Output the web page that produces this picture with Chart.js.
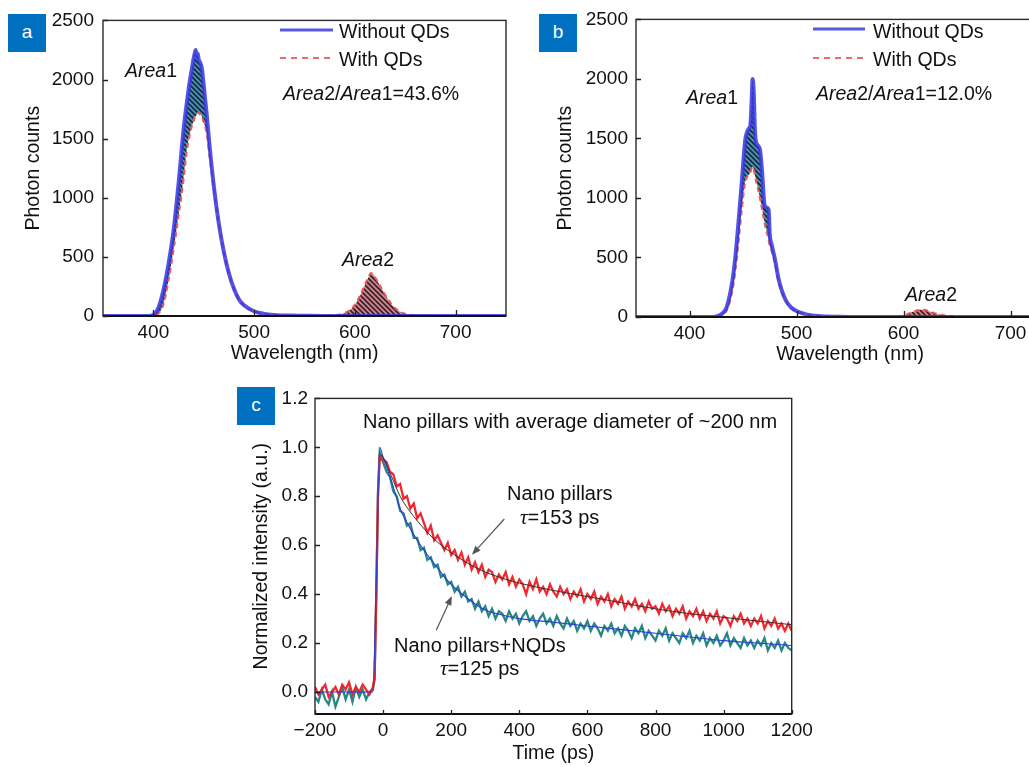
<!DOCTYPE html>
<html><head><meta charset="utf-8">
<script src="https://cdn.jsdelivr.net/npm/chart.js@4.4.1/dist/chart.umd.min.js"></script>
<style>
html,body{margin:0;padding:0;background:#fff;width:1029px;height:767px;overflow:hidden;position:relative;font-family:'Liberation Sans',Arial,sans-serif;color:#111}
canvas{position:absolute}
.t{position:absolute;white-space:nowrap;font-size:19.5px;line-height:24px;transform:translateY(-50%)}
.c20{font-size:20px}
.box{position:absolute;width:38px;height:38px;background:#0070c0;color:#fff;font-size:19px;line-height:36px;text-align:center}
.tau{font-family:'Liberation Serif','DejaVu Serif',serif;font-style:italic;font-size:21px}
</style></head><body>
<canvas id="ca" width="520" height="370" style="left:0;top:0"></canvas>
<canvas id="cb" width="560" height="370" style="left:520px;top:0"></canvas>
<canvas id="cc" width="600" height="387" style="left:230px;top:380px"></canvas>

<div class="box" style="left:8px;top:14px">a</div>
<div class="box" style="left:539px;top:14px">b</div>
<div class="box" style="left:237px;top:387px">c</div>

<div class="t" style="left:339px;top:31px">Without QDs</div>
<div class="t" style="left:339px;top:59px">With QDs</div>
<div class="t" style="left:125px;top:70px"><i>Area</i>1</div>
<div class="t" style="left:283px;top:93px"><i>Area</i>2/<i>Area</i>1=43.6%</div>
<div class="t" style="left:342px;top:259px"><i>Area</i>2</div>

<div class="t" style="left:873px;top:31px">Without QDs</div>
<div class="t" style="left:873px;top:59px">With QDs</div>
<div class="t" style="left:686px;top:97px"><i>Area</i>1</div>
<div class="t" style="left:816px;top:93px"><i>Area</i>2/<i>Area</i>1=12.0%</div>
<div class="t" style="left:905px;top:294px"><i>Area</i>2</div>

<div class="t c20" style="left:363px;top:421px">Nano pillars with average diameter of ~200 nm</div>
<div class="t c20" style="left:507px;top:493px">Nano pillars</div>
<div class="t c20" style="left:520px;top:517px"><span class="tau">τ</span>=153 ps</div>
<div class="t c20" style="left:394px;top:645px">Nano pillars+NQDs</div>
<div class="t c20" style="left:440px;top:668px"><span class="tau">τ</span>=125 ps</div>

<svg style="position:absolute;left:0;top:0" width="1029" height="767">
  <line x1="280" y1="30" x2="333" y2="30" stroke="rgba(70,70,225,0.9)" stroke-width="3"/>
  <line x1="280" y1="58" x2="333" y2="58" stroke="rgba(235,90,90,0.9)" stroke-width="2" stroke-dasharray="6,5"/>
  <line x1="813" y1="29" x2="865" y2="29" stroke="rgba(70,70,225,0.9)" stroke-width="3"/>
  <line x1="813" y1="58" x2="865" y2="58" stroke="rgba(235,90,90,0.9)" stroke-width="2" stroke-dasharray="6,5"/>
</svg>

<script>
// ---------- Panel a data ----------
const wlA = [350,380,395,400,405,410,415,420,425,430,433,436,438,440,441,442,443,444,445,446,448,450,453,456,460,465,470,475,480,485,490,500,510,520,535,550,570,585,590,595,600,605,610,613,616,618,620,623,626,630,635,640,645,650,660,680,700,750];
const withoutQDsA = [0,0,0,10,70,220,440,720,1120,1580,1790,1980,2080,2180,2220,2250,2200,2220,2170,2150,2100,1950,1700,1420,1100,780,540,360,230,140,90,40,18,9,4,2,0,0,0,0,0,0,0,0,0,0,0,0,0,0,0,0,0,0,0,0,0,0];
const withQDsA    = [0,0,0,0,20,100,300,560,850,1160,1390,1530,1600,1650,1680,1690,1700,1715,1722,1710,1690,1640,1540,1340,1080,770,535,355,228,138,88,40,18,9,4,2,3,12,25,50,95,170,265,320,362,355,330,285,240,180,115,65,35,18,5,0,0,0];

// ---------- Panel b data ----------
const wlB = [350,400,420,425,430,435,440,443,446,449,452,454,456,457,458,459,460,461,462,464,466,468,470,472,474,475,477,480,483,486,490,495,500,510,520,540,560,590,600,605,610,614,617,620,624,628,632,640,650,660,700,750];
const withoutQDsB = [0,0,0,5,25,90,300,520,820,1150,1480,1560,1590,1620,1800,2000,1900,1600,1480,1440,1400,1200,950,920,900,700,600,480,330,230,140,80,50,20,8,2,0,0,0,0,0,0,0,0,0,0,0,0,0,0,0,0];
const withQDsB    = [0,0,0,3,15,60,220,400,650,920,1130,1180,1200,1220,1250,1260,1240,1200,1150,1080,990,900,800,720,650,600,550,450,310,220,135,78,48,20,8,3,2,3,12,30,48,58,62,58,48,35,24,12,4,0,0,0];

const wlTicks = [400,500,600,700];
const countTicks = [0,500,1000,1500,2000,2500];

// ---------- Panel c data ----------
const timePs = [-200,-190,-180,-170,-160,-150,-140,-130,-120,-110,-100,-90,-80,-70,-60,-50,-40,-30,-25,-20,-15,-10,-5,
0,10,20,30,40,50,60,70,80,90,100,110,120,130,140,150,160,170,180,190,200,210,220,230,240,250,260,270,280,290,300,
310,320,330,340,350,360,370,380,390,400,410,420,430,440,450,460,470,480,490,500,510,520,530,540,550,560,570,580,590,600,
610,620,630,640,650,660,670,680,690,700,710,720,730,740,750,760,770,780,790,800,810,820,830,840,850,860,870,880,890,900,
910,920,930,940,950,960,970,980,990,1000,1010,1020,1030,1040,1050,1060,1070,1080,1090,1100,1110,1120,1130,1140,1150,1160,1170,1180,1190,1200];
const nanoPillars = [0.02,-0.01,0.01,0.03,-0.02,0.00,0.02,-0.01,0.03,0.01,0.04,-0.01,0.02,0.00,0.03,0.01,-0.01,0.02,0.06,0.40,0.80,0.96,0.95,
0.95,0.94,0.90,0.89,0.84,0.85,0.79,0.80,0.75,0.77,0.71,0.73,0.69,0.65,0.68,0.62,0.64,0.61,0.58,0.61,0.56,0.58,0.54,0.57,0.52,0.55,0.50,0.53,0.49,0.52,0.47,
0.50,0.49,0.45,0.48,0.46,0.49,0.44,0.47,0.43,0.46,0.44,0.40,0.45,0.42,0.46,0.41,0.43,0.40,0.44,0.41,0.39,0.43,0.40,0.42,0.38,0.41,0.39,0.42,0.37,0.40,
0.38,0.41,0.36,0.39,0.37,0.40,0.35,0.38,0.36,0.39,0.34,0.37,0.35,0.38,0.34,0.36,0.33,0.37,0.34,0.35,0.32,0.36,0.33,0.35,0.31,0.34,0.32,0.35,0.30,0.33,
0.31,0.34,0.30,0.33,0.29,0.32,0.30,0.33,0.28,0.31,0.30,0.27,0.31,0.29,0.32,0.28,0.30,0.27,0.30,0.28,0.31,0.26,0.29,0.27,0.30,0.26,0.28,0.25,0.28,0.25];
const pillarsNQDs = [-0.02,-0.04,0.01,-0.03,-0.05,0.00,-0.06,-0.02,0.02,-0.03,0.01,-0.04,0.02,-0.02,0.01,-0.03,0.00,0.01,0.05,0.40,0.82,0.98,0.96,
0.94,0.90,0.88,0.82,0.80,0.74,0.73,0.68,0.69,0.63,0.63,0.58,0.59,0.54,0.55,0.51,0.52,0.47,0.48,0.44,0.45,0.41,0.43,0.39,0.41,0.37,0.38,0.34,0.37,0.33,0.35,
0.31,0.34,0.30,0.33,0.32,0.29,0.33,0.30,0.32,0.28,0.31,0.33,0.29,0.31,0.27,0.30,0.32,0.28,0.30,0.27,0.31,0.28,0.26,0.30,0.27,0.29,0.25,0.28,0.26,0.29,
0.25,0.28,0.26,0.23,0.27,0.25,0.28,0.24,0.26,0.23,0.27,0.25,0.22,0.26,0.24,0.27,0.22,0.25,0.23,0.21,0.25,0.23,0.26,0.21,0.24,0.22,0.20,0.24,0.22,0.25,
0.20,0.23,0.21,0.24,0.19,0.22,0.20,0.23,0.19,0.21,0.24,0.19,0.22,0.20,0.18,0.22,0.19,0.21,0.18,0.21,0.19,0.22,0.17,0.20,0.18,0.21,0.17,0.20,0.18,0.17];
const fitTimePillars = [-10,0,25,50,75,100,125,150,175,200,250,300,350,400,500,600,700,800,900,1000,1100,1200];
const fitPillars     = [0.97,0.96,0.88,0.80,0.745,0.70,0.66,0.625,0.595,0.57,0.525,0.49,0.465,0.445,0.415,0.39,0.365,0.34,0.32,0.305,0.29,0.275];
const fitTimeNQDs = [-200,-100,-30,-20,-10,0,25,50,75,100,125,150,175,200,250,300,350,400,500,600,700,800,900,1000,1100,1200];
const fitNQDs     = [0,0,0,0.45,1.0,0.96,0.86,0.75,0.68,0.62,0.57,0.525,0.48,0.44,0.38,0.335,0.315,0.30,0.285,0.27,0.255,0.24,0.225,0.21,0.20,0.19];
const timeTicks = [-200,0,200,400,600,800,1000,1200];
const intensityTicks = [0,0.2,0.4,0.6,0.8,1.0,1.2];

// ---------- helpers ----------
Chart.defaults.font.family = "'Liberation Sans', Arial, sans-serif";
Chart.defaults.color = '#111';
const pts = (xs, ys) => xs.map((x, i) => ({x, y: ys[i]}));

function hatch(bg, fg) {
  const s = 5, c = document.createElement('canvas');
  c.width = s; c.height = s;
  const g = c.getContext('2d');
  g.fillStyle = bg; g.fillRect(0, 0, s, s);
  g.strokeStyle = fg; g.lineWidth = 1.7;
  g.beginPath();
  [-s, 0, s].forEach(k => { g.moveTo(k - 1, -1); g.lineTo(k + s + 1, s + 1); });
  g.stroke();
  return g.createPattern(c, 'repeat');
}

function framePlugin(xt, yt, xlen, ylen) {
  return {
    id: 'frame',
    afterDatasetsDraw(ch) {
      const {ctx, chartArea: a, scales: {x, y}} = ch;
      ctx.save();
      ctx.strokeStyle = '#2a2a2a'; ctx.lineWidth = 1.4;
      ctx.strokeRect(a.left, a.top, a.right - a.left, a.bottom - a.top);
      ctx.strokeStyle = '#111'; ctx.lineWidth = 2;
      ctx.beginPath(); ctx.moveTo(a.left, a.bottom); ctx.lineTo(a.right, a.bottom); ctx.stroke();
      ctx.lineWidth = 1.3; ctx.strokeStyle = '#222';
      ctx.beginPath();
      xt.forEach(v => { const p = Math.round(x.getPixelForValue(v)) + 0.5; ctx.moveTo(p, a.bottom); ctx.lineTo(p, a.bottom - xlen); });
      yt.forEach(v => { const p = Math.round(y.getPixelForValue(v)) + 0.5; ctx.moveTo(a.left, p); ctx.lineTo(a.left + ylen, p); });
      ctx.stroke();
      ctx.restore();
    }
  };
}

function spectrum(id, W, H, plot, wl, without, withq, yTitlePad, xTitlePad, yTickPad) {
  const area1 = hatch('#4b98a6', '#17264a');
  const area2 = hatch('#cf8a93', '#3d1f27');
  new Chart(document.getElementById(id), {
    type: 'line',
    data: {
      datasets: [
        {label: 'Without QDs', data: pts(wl, without), borderColor: 'rgba(55,55,225,0.85)', borderWidth: 4,
         pointRadius: 0, cubicInterpolationMode: 'monotone', fill: {target: '+1', above: area1, below: area2}},
        {label: 'With QDs', data: pts(wl, withq), borderColor: 'rgba(235,85,85,0.95)', borderWidth: 2.2,
         borderDash: [5, 4], pointRadius: 0, cubicInterpolationMode: 'monotone', fill: false}
      ]
    },
    options: {
      responsive: false, animation: false, events: [],
      layout: {padding: {top: plot.top, right: W - plot.right, left: 0, bottom: 0}},
      plugins: {legend: {display: false}, tooltip: {enabled: false}, filler: {drawTime: 'beforeDatasetsDraw'}},
      scales: {
        x: {type: 'linear', min: 350, max: 750,
            afterBuildTicks: s => { s.ticks = wlTicks.map(v => ({value: v})); },
            afterFit: s => { s.height = H - plot.bottom; },
            grid: {display: false, drawTicks: false}, border: {display: false},
            ticks: {padding: 5, font: {size: 19}, autoSkip: false, maxRotation: 0, color: '#111', callback: v => String(v)},
            title: {display: true, text: 'Wavelength (nm)', font: {size: 19.5}, color: '#111', padding: {top: 0, bottom: xTitlePad}}},
        y: {type: 'linear', min: 0, max: 2500,
            afterBuildTicks: s => { s.ticks = countTicks.map(v => ({value: v})); },
            afterFit: s => { s.width = plot.left; },
            grid: {display: false, drawTicks: false}, border: {display: false},
            ticks: {padding: yTickPad, font: {size: 19}, autoSkip: false, color: '#111', callback: v => String(v)},
            title: {display: true, text: 'Photon counts', font: {size: 19.5}, color: '#111', padding: {top: yTitlePad, bottom: 0}}}
      }
    },
    plugins: [framePlugin(wlTicks, countTicks, 6, 5)]
  });
}

spectrum('ca', 520, 370, {left: 103, top: 17, right: 506, bottom: 316}, wlA, withoutQDsA, withQDsA, 22, 5, 9);
spectrum('cb', 560, 370, {left: 116, top: 17, right: 544, bottom: 317}, wlB, withoutQDsB, withQDsB, 34, 4, 8);

// ---------- Panel c ----------
const arrowPlugin = {
  id: 'arrows',
  afterDatasetsDraw(ch) {
    const {ctx, scales: {x, y}} = ch;
    const arrows = [[356, 0.707, 261, 0.561], [156, 0.252, 202, 0.392]];
    ctx.save();
    ctx.strokeStyle = '#555'; ctx.fillStyle = '#555'; ctx.lineWidth = 1.2;
    arrows.forEach(([t0, v0, t1, v1]) => {
      const x0 = x.getPixelForValue(t0), y0 = y.getPixelForValue(v0);
      const x1 = x.getPixelForValue(t1), y1 = y.getPixelForValue(v1);
      const ang = Math.atan2(y1 - y0, x1 - x0), L = 9, w = 3.5;
      ctx.beginPath(); ctx.moveTo(x0, y0); ctx.lineTo(x1 - Math.cos(ang) * L * 0.8, y1 - Math.sin(ang) * L * 0.8); ctx.stroke();
      ctx.beginPath();
      ctx.moveTo(x1, y1);
      ctx.lineTo(x1 - Math.cos(ang) * L - Math.sin(ang) * w, y1 - Math.sin(ang) * L + Math.cos(ang) * w);
      ctx.lineTo(x1 - Math.cos(ang) * L + Math.sin(ang) * w, y1 - Math.sin(ang) * L - Math.cos(ang) * w);
      ctx.closePath(); ctx.fill();
    });
    ctx.restore();
  }
};

new Chart(document.getElementById('cc'), {
  type: 'line',
  data: {
    datasets: [
      {label: 'Fit nano pillars', data: pts(fitTimePillars, fitPillars), borderColor: '#333', borderWidth: 1, pointRadius: 0, cubicInterpolationMode: 'monotone'},
      {label: 'Fit nano pillars+NQDs', data: pts(fitTimeNQDs, fitNQDs), borderColor: '#2b3fd6', borderWidth: 1.1, pointRadius: 0, cubicInterpolationMode: 'monotone'},
      {label: 'Nano pillars', data: pts(timePs, nanoPillars), borderColor: 'rgba(240,30,36,0.95)', borderWidth: 2.3, pointRadius: 0},
      {label: 'Nano pillars+NQDs', data: pts(timePs, pillarsNQDs), borderColor: 'rgba(28,128,128,0.95)', borderWidth: 2.3, pointRadius: 0}
    ]
  },
  options: {
    responsive: false, animation: false, events: [],
    layout: {padding: {top: 17, right: 600 - 561.7, left: 0, bottom: 0}},
    plugins: {legend: {display: false}, tooltip: {enabled: false}},
    scales: {
      x: {type: 'linear', min: -200, max: 1200,
          afterBuildTicks: s => { s.ticks = timeTicks.map(v => ({value: v})); },
          afterFit: s => { s.height = 387 - 334; },
          grid: {display: false, drawTicks: false}, border: {display: false},
          ticks: {padding: 5, font: {size: 19}, autoSkip: false, maxRotation: 0, color: '#111',
                  callback: v => v < 0 ? '\u2212' + Math.abs(v) : String(v)},
          title: {display: true, text: 'Time (ps)', font: {size: 19.5}, color: '#111', padding: {top: 0, bottom: 2}}},
      y: {type: 'linear', min: -0.09, max: 1.2,
          afterBuildTicks: s => { s.ticks = intensityTicks.map(v => ({value: v})); },
          afterFit: s => { s.width = 85; },
          grid: {display: false, drawTicks: false}, border: {display: false},
          ticks: {padding: 7, font: {size: 19}, autoSkip: false, color: '#111', callback: v => v.toFixed(1)},
          title: {display: true, text: 'Normalized intensity (a.u.)', font: {size: 19.5}, color: '#111', padding: {top: 20, bottom: 0}}}
    }
  },
  plugins: [framePlugin(timeTicks, intensityTicks, 4, 5), arrowPlugin]
});
</script>
</body></html>
